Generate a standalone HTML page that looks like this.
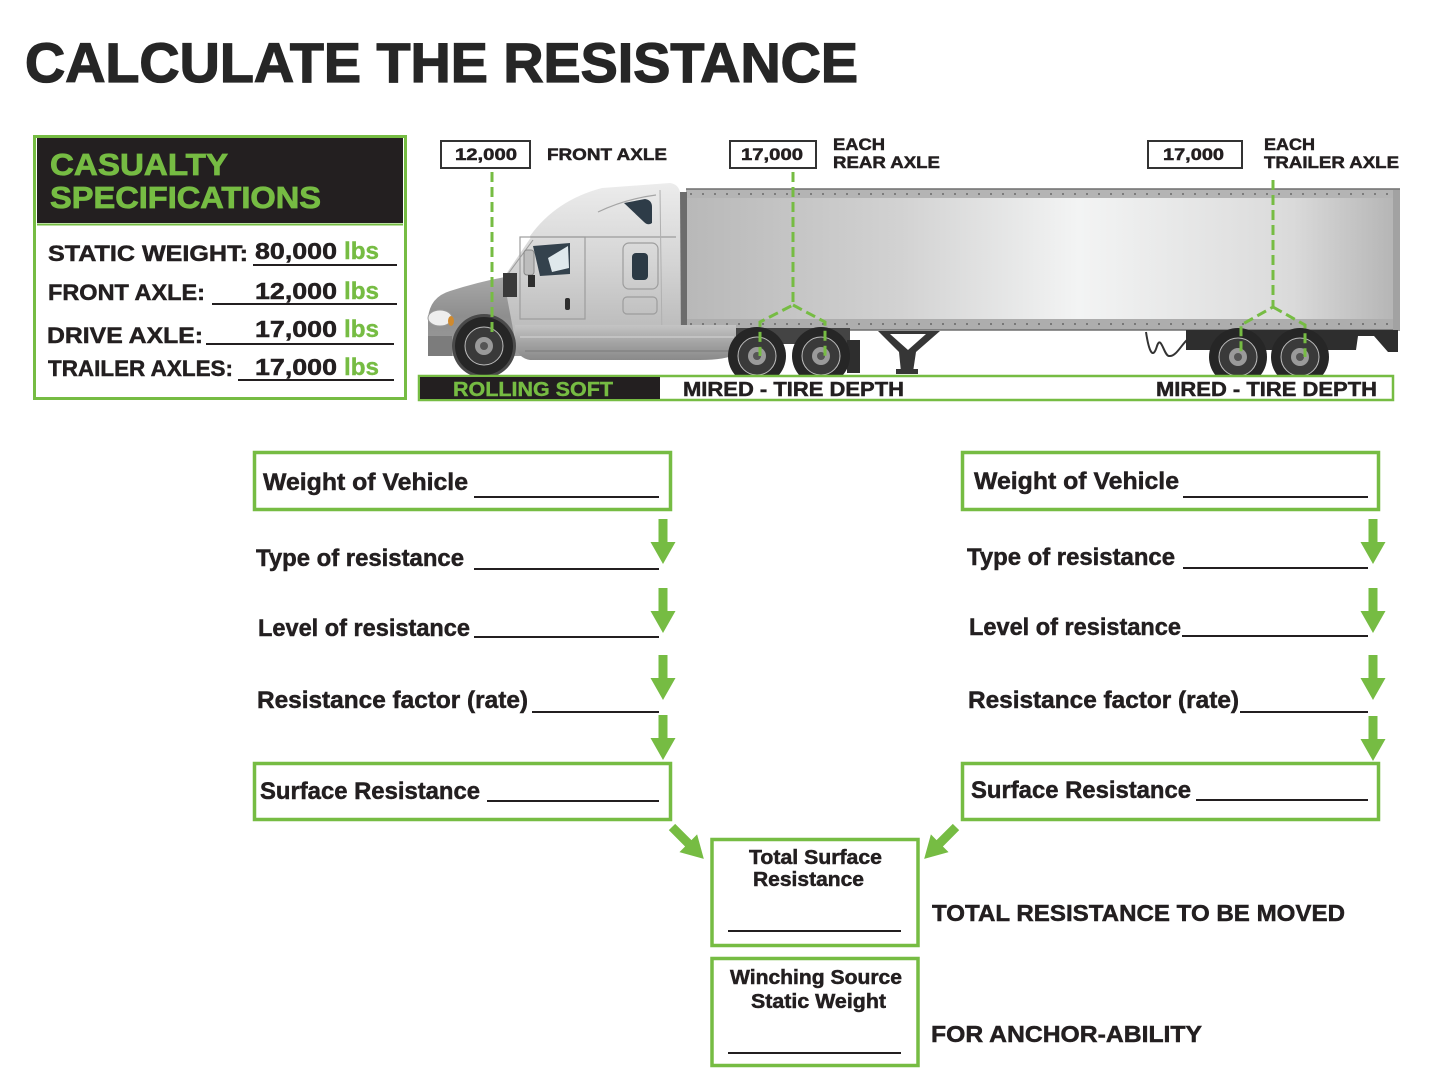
<!DOCTYPE html>
<html><head><meta charset="utf-8">
<style>
html,body{margin:0;padding:0;background:#fff;}
svg{display:block;}
text{font-family:"Liberation Sans",Arial,sans-serif;font-weight:bold;fill:#231f20;stroke:#231f20;stroke-width:0.5px;}
text.g{fill:#76bc43;stroke:#76bc43;stroke-width:0.4px;}
text.t{fill:#262626;stroke:#262626;stroke-width:1.3px;}
</style></head><body>
<svg width="1452" height="1080" viewBox="0 0 1452 1080" xmlns="http://www.w3.org/2000/svg">
<defs>
 <linearGradient id="trl" x1="0" x2="1" y1="0" y2="0">
  <stop offset="0" stop-color="#b8b8b8"/>
  <stop offset="0.3" stop-color="#d2d2d2"/>
  <stop offset="0.55" stop-color="#f3f4f4"/>
  <stop offset="0.85" stop-color="#dadada"/>
  <stop offset="1" stop-color="#b3b3b3"/>
 </linearGradient>
 <linearGradient id="cab" x1="0" x2="0" y1="0" y2="1">
  <stop offset="0" stop-color="#ececec"/>
  <stop offset="0.5" stop-color="#d4d4d4"/>
  <stop offset="1" stop-color="#b6b6b6"/>
 </linearGradient>
 <linearGradient id="hood" x1="0" x2="0" y1="0" y2="1">
  <stop offset="0" stop-color="#a8a8a8"/>
  <stop offset="0.5" stop-color="#8e8e8e"/>
  <stop offset="1" stop-color="#9c9c9c"/>
 </linearGradient>
 <linearGradient id="skirt" x1="0" x2="0" y1="0" y2="1">
  <stop offset="0" stop-color="#c4c4c4"/>
  <stop offset="0.5" stop-color="#a4a4a4"/>
  <stop offset="1" stop-color="#8a8a8a"/>
 </linearGradient>
 <g id="wheel">
  <circle r="29" fill="#262626"/>
  <circle r="19" fill="#3a3a3a" stroke="#bdbdbd" stroke-width="1"/>
  <circle r="9" fill="#9a9a9a"/>
  <circle r="4" fill="#555"/>
 </g>
 <polygon id="arr" points="-4.5,0 4.5,0 4.5,23 12.5,23 0,45 -12.5,23 -4.5,23"/>
</defs>

<!-- Title -->
<text class="t" x="25" y="82" font-size="56" textLength="833" lengthAdjust="spacingAndGlyphs">CALCULATE THE RESISTANCE</text>

<!-- Casualty specifications box -->
<rect x="34.5" y="136.5" width="371" height="262" fill="#fff" stroke="#76bc43" stroke-width="3"/>
<rect x="37" y="138" width="366" height="85" fill="#231f20"/>
<line x1="37" y1="224.5" x2="403" y2="224.5" stroke="#76bc43" stroke-width="2"/>
<text class="g" x="50" y="175" font-size="31" textLength="178" lengthAdjust="spacingAndGlyphs" style="stroke-width:0.8px">CASUALTY</text>
<text class="g" x="50" y="208" font-size="31" textLength="271" lengthAdjust="spacingAndGlyphs" style="stroke-width:0.8px">SPECIFICATIONS</text>

<text x="48" y="261" font-size="22" textLength="200" lengthAdjust="spacingAndGlyphs">STATIC WEIGHT:</text>
<text x="255" y="259" font-size="23" textLength="82" lengthAdjust="spacingAndGlyphs">80,000</text>
<text class="g" x="344" y="259" font-size="24" textLength="35" lengthAdjust="spacingAndGlyphs">lbs</text>
<line x1="253" y1="265" x2="397" y2="265" stroke="#231f20" stroke-width="2"/>

<text x="48" y="300" font-size="22" textLength="157" lengthAdjust="spacingAndGlyphs">FRONT AXLE:</text>
<text x="255" y="299" font-size="23" textLength="82" lengthAdjust="spacingAndGlyphs">12,000</text>
<text class="g" x="344" y="299" font-size="24" textLength="35" lengthAdjust="spacingAndGlyphs">lbs</text>
<line x1="212" y1="304" x2="397" y2="304" stroke="#231f20" stroke-width="2"/>

<text x="47" y="343" font-size="22" textLength="156" lengthAdjust="spacingAndGlyphs">DRIVE AXLE:</text>
<text x="255" y="337" font-size="23" textLength="82" lengthAdjust="spacingAndGlyphs">17,000</text>
<text class="g" x="344" y="337" font-size="24" textLength="35" lengthAdjust="spacingAndGlyphs">lbs</text>
<line x1="206" y1="344" x2="394" y2="344" stroke="#231f20" stroke-width="2"/>

<text x="48" y="376" font-size="22" textLength="185" lengthAdjust="spacingAndGlyphs">TRAILER AXLES:</text>
<text x="255" y="375" font-size="23" textLength="82" lengthAdjust="spacingAndGlyphs">17,000</text>
<text class="g" x="344" y="375" font-size="24" textLength="35" lengthAdjust="spacingAndGlyphs">lbs</text>
<line x1="238" y1="380" x2="394" y2="380" stroke="#231f20" stroke-width="2"/>

<!-- Trailer -->
<rect x="686" y="190" width="714" height="140" fill="url(#trl)"/>
<rect x="686" y="189" width="714" height="9" fill="#b4b4b4"/>
<line x1="686" y1="189" x2="1400" y2="189" stroke="#6e6e6e" stroke-width="1.5"/>
<line x1="690" y1="194" x2="1396" y2="194" stroke="#7c7c7c" stroke-width="2" stroke-dasharray="2,10"/>
<rect x="686" y="319" width="714" height="11" fill="#adadad"/>
<line x1="690" y1="324" x2="1396" y2="324" stroke="#777" stroke-width="2" stroke-dasharray="2,10"/>
<line x1="686" y1="330" x2="1400" y2="330" stroke="#6e6e6e" stroke-width="1.5"/>
<rect x="1393" y="190" width="7" height="140" fill="#a2a2a2"/>
<rect x="674" y="192" width="13" height="136" fill="#6c6c6c"/>

<!-- Under trailer -->
<path d="M878,331 L940,331 L916,352 L913,372 L901,372 L899,352 Z" fill="#363636"/>
<path d="M890,334 L926,334 L908,350 Z" fill="#fff"/>
<rect x="896" y="369" width="22" height="5" fill="#363636"/>
<path d="M1146,332 C1149,352 1153,360 1157,346 C1161,334 1164,356 1169,356 C1176,357 1181,345 1188,339" stroke="#333" stroke-width="2" fill="none"/>
<rect x="1186" y="330" width="155" height="20" fill="#2e2e2e"/>
<path d="M1338,330 L1398,330 L1398,352 L1388,352 L1374,336 L1358,336 L1356,350 L1338,350 Z" fill="#2e2e2e"/>
<rect x="700" y="328" width="150" height="16" fill="#444"/>
<rect x="847" y="340" width="13" height="33" fill="#2e2e2e"/>

<!-- Cab -->
<path d="M428,356 L428,318 Q430,297 450,291 Q478,282 505,277 L522,277 L522,356 Z" fill="url(#hood)"/>
<path d="M516,345 L503,276 L530,236 Q556,200 602,188 L670,183 Q678,184 680,192 L681,345 Z" fill="url(#cab)"/>
<path d="M503,276 L530,236" stroke="#fff" stroke-width="3"/>
<path d="M508,274 L533,240" stroke="#9a9a9a" stroke-width="1"/>
<line x1="530" y1="237" x2="676" y2="237" stroke="#9d9d9d" stroke-width="1.2"/>
<path d="M598,212 Q625,199 656,195" stroke="#a5a5a5" stroke-width="1.2" fill="none"/>
<rect x="520" y="237" width="65" height="82" fill="none" stroke="#9d9d9d" stroke-width="1.2"/>
<path d="M533,246 L570,243 L570,274 L540,276 Z" fill="#34424d"/>
<path d="M548,258 L568,246 L569,268 L552,272 Z" fill="#dfe8ec"/>
<rect x="524" y="250" width="10" height="25" rx="3" fill="#bdbdbd" stroke="#888" stroke-width="1"/>
<rect x="528" y="275" width="7" height="12" fill="#2e2e2e"/>
<rect x="623" y="243" width="35" height="46" rx="6" fill="none" stroke="#9d9d9d" stroke-width="1.2"/>
<rect x="632" y="253" width="16" height="27" rx="4" fill="#2c3a45"/>
<rect x="623" y="297" width="34" height="17" rx="4" fill="none" stroke="#9d9d9d" stroke-width="1.2"/>
<rect x="565" y="298" width="5" height="12" rx="2" fill="#2e2e2e"/>
<path d="M624,203 L645,199 Q652,200 652,207 L652,223 Q648,226 644,222 Z" fill="#2e3c48"/>
<rect x="503" y="273" width="14" height="24" fill="#3a3a3a"/>
<line x1="660" y1="190" x2="662" y2="340" stroke="#b0b0b0" stroke-width="1"/>
<ellipse cx="440" cy="318" rx="12" ry="8" fill="#eeeeee" stroke="#999" stroke-width="1"/>
<ellipse cx="451" cy="321" rx="3" ry="5" fill="#d08a2e"/>
<rect x="428" y="336" width="24" height="20" fill="#7c7c7c"/>
<path d="M515,325 L736,325 L736,354 Q726,360 700,360 L530,360 Q518,358 515,345 Z" fill="url(#skirt)"/>
<line x1="520" y1="337" x2="734" y2="337" stroke="#cfcfcf" stroke-width="1.2"/>
<line x1="525" y1="351" x2="730" y2="351" stroke="#7a7a7a" stroke-width="1"/>

<!-- Wheels -->
<circle cx="484" cy="346" r="32" fill="#4a4a4a"/>
<use href="#wheel" x="484" y="346"/>
<use href="#wheel" x="757" y="356"/>
<use href="#wheel" x="821" y="356"/>
<use href="#wheel" x="1238" y="357"/>
<use href="#wheel" x="1300" y="357"/>

<!-- Dashed green axle lines -->
<g stroke="#76bc43" stroke-width="3" fill="none" stroke-dasharray="10,5">
 <path d="M492,172 L492,336"/>
 <path d="M793,172 L793,305 L760,322 L760,356"/>
 <path d="M793,305 L825,322 L825,357"/>
 <path d="M1273,180 L1273,307 L1241,325 L1241,356"/>
 <path d="M1273,307 L1305,325 L1305,357"/>
</g>

<!-- Axle labels -->
<rect x="441" y="141" width="89" height="27" fill="#fff" stroke="#333" stroke-width="2"/>
<text x="455" y="160" font-size="17" textLength="62" lengthAdjust="spacingAndGlyphs">12,000</text>
<text x="547" y="160" font-size="17" textLength="120" lengthAdjust="spacingAndGlyphs">FRONT AXLE</text>
<rect x="730" y="141" width="86" height="27" fill="#fff" stroke="#333" stroke-width="2"/>
<text x="741" y="160" font-size="17" textLength="62" lengthAdjust="spacingAndGlyphs">17,000</text>
<text x="833" y="150" font-size="17" textLength="52" lengthAdjust="spacingAndGlyphs">EACH</text>
<text x="833" y="168" font-size="17" textLength="107" lengthAdjust="spacingAndGlyphs">REAR AXLE</text>
<rect x="1148" y="141" width="94" height="27" fill="#fff" stroke="#333" stroke-width="2"/>
<text x="1163" y="160" font-size="17" textLength="61" lengthAdjust="spacingAndGlyphs">17,000</text>
<text x="1264" y="150" font-size="17" textLength="51" lengthAdjust="spacingAndGlyphs">EACH</text>
<text x="1264" y="168" font-size="17" textLength="135" lengthAdjust="spacingAndGlyphs">TRAILER AXLE</text>

<!-- Ground bar -->
<rect x="419" y="376" width="974" height="24" fill="#fff" stroke="#76bc43" stroke-width="2.5"/>
<rect x="420" y="377" width="240" height="22" fill="#231f20"/>
<text class="g" x="453" y="396" font-size="20" textLength="160" lengthAdjust="spacingAndGlyphs">ROLLING SOFT</text>
<text x="683" y="396" font-size="20" textLength="221" lengthAdjust="spacingAndGlyphs">MIRED - TIRE DEPTH</text>
<text x="1156" y="396" font-size="20" textLength="221" lengthAdjust="spacingAndGlyphs">MIRED - TIRE DEPTH</text>

<!-- Left column -->
<rect x="254.5" y="452.5" width="416" height="57" fill="none" stroke="#76bc43" stroke-width="3.5"/>
<text x="263" y="490" font-size="24" textLength="205" lengthAdjust="spacingAndGlyphs">Weight of Vehicle</text>
<line x1="474" y1="497" x2="659" y2="497" stroke="#231f20" stroke-width="2"/>
<text x="256" y="566" font-size="24" textLength="208" lengthAdjust="spacingAndGlyphs">Type of resistance</text>
<line x1="474" y1="569" x2="659" y2="569" stroke="#231f20" stroke-width="2"/>
<text x="258" y="636" font-size="24" textLength="212" lengthAdjust="spacingAndGlyphs">Level of resistance</text>
<line x1="474" y1="637" x2="659" y2="637" stroke="#231f20" stroke-width="2"/>
<text x="257" y="708" font-size="24" textLength="271" lengthAdjust="spacingAndGlyphs">Resistance factor (rate)</text>
<line x1="532" y1="712" x2="659" y2="712" stroke="#231f20" stroke-width="2"/>
<rect x="254.5" y="763.5" width="416" height="56" fill="none" stroke="#76bc43" stroke-width="3.5"/>
<text x="260" y="799" font-size="24" textLength="220" lengthAdjust="spacingAndGlyphs">Surface Resistance</text>
<line x1="487" y1="801" x2="659" y2="801" stroke="#231f20" stroke-width="2"/>
<g fill="#76bc43">
 <use href="#arr" x="663" y="519"/>
 <use href="#arr" x="663" y="588"/>
 <use href="#arr" x="663" y="655"/>
 <use href="#arr" x="663" y="715"/>
</g>

<!-- Right column -->
<rect x="962.5" y="452.5" width="416" height="57" fill="none" stroke="#76bc43" stroke-width="3.5"/>
<text x="974" y="489" font-size="24" textLength="205" lengthAdjust="spacingAndGlyphs">Weight of Vehicle</text>
<line x1="1183" y1="497" x2="1368" y2="497" stroke="#231f20" stroke-width="2"/>
<text x="967" y="565" font-size="24" textLength="208" lengthAdjust="spacingAndGlyphs">Type of resistance</text>
<line x1="1183" y1="568" x2="1368" y2="568" stroke="#231f20" stroke-width="2"/>
<text x="969" y="635" font-size="24" textLength="212" lengthAdjust="spacingAndGlyphs">Level of resistance</text>
<line x1="1182" y1="636" x2="1368" y2="636" stroke="#231f20" stroke-width="2"/>
<text x="968" y="708" font-size="24" textLength="271" lengthAdjust="spacingAndGlyphs">Resistance factor (rate)</text>
<line x1="1240" y1="712" x2="1368" y2="712" stroke="#231f20" stroke-width="2"/>
<rect x="962.5" y="763.5" width="416" height="56" fill="none" stroke="#76bc43" stroke-width="3.5"/>
<text x="971" y="798" font-size="24" textLength="220" lengthAdjust="spacingAndGlyphs">Surface Resistance</text>
<line x1="1196" y1="800" x2="1368" y2="800" stroke="#231f20" stroke-width="2"/>
<g fill="#76bc43">
 <use href="#arr" x="1373" y="519"/>
 <use href="#arr" x="1373" y="588"/>
 <use href="#arr" x="1373" y="655"/>
 <use href="#arr" x="1373" y="716"/>
</g>

<!-- Diagonal arrows -->
<g fill="#76bc43">
 <use href="#arr" transform="translate(672,827) rotate(-45)"/>
 <use href="#arr" transform="translate(956,827) rotate(45)"/>
</g>

<!-- Total boxes -->
<rect x="712" y="839.5" width="206" height="106" fill="none" stroke="#76bc43" stroke-width="3.5"/>
<text x="749" y="864" font-size="20" textLength="133" lengthAdjust="spacingAndGlyphs">Total Surface</text>
<text x="753" y="886" font-size="20" textLength="111" lengthAdjust="spacingAndGlyphs">Resistance</text>
<line x1="728" y1="931" x2="901" y2="931" stroke="#231f20" stroke-width="2"/>

<rect x="712" y="958.5" width="206" height="107" fill="none" stroke="#76bc43" stroke-width="3.5"/>
<text x="730" y="984" font-size="20" textLength="172" lengthAdjust="spacingAndGlyphs">Winching Source</text>
<text x="751" y="1008" font-size="20" textLength="135" lengthAdjust="spacingAndGlyphs">Static Weight</text>
<line x1="728" y1="1053" x2="901" y2="1053" stroke="#231f20" stroke-width="2"/>

<text x="932" y="921" font-size="23" textLength="413" lengthAdjust="spacingAndGlyphs">TOTAL RESISTANCE TO BE MOVED</text>
<text x="931" y="1042" font-size="23" textLength="271" lengthAdjust="spacingAndGlyphs">FOR ANCHOR-ABILITY</text>
</svg>
</body></html>
